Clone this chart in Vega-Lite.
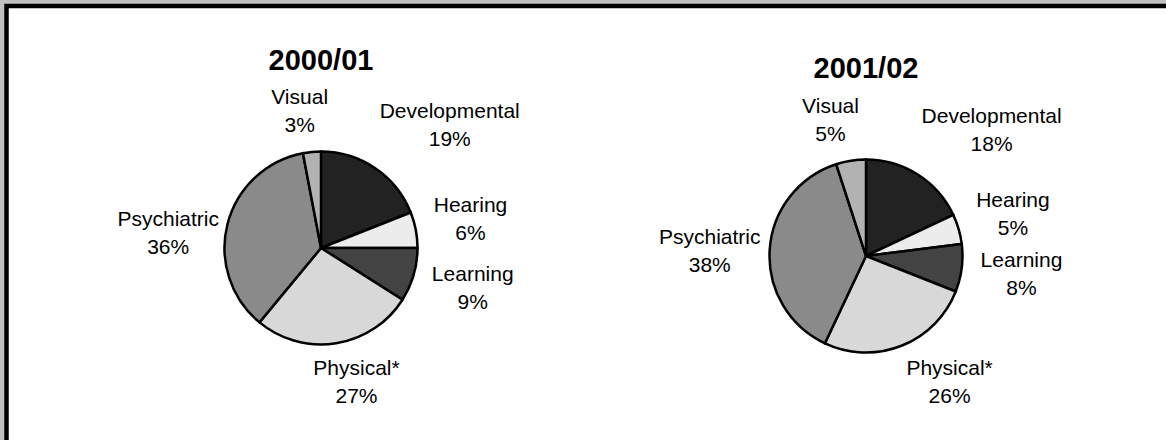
{
  "$schema": "https://vega.github.io/schema/vega-lite/v6.json",
  "width": 1159.5,
  "height": 434,
  "autosize": {"type": "none"},
  "padding": {"left": 6.5, "top": 6, "right": 0, "bottom": 0},
  "background": "#c0c0c0",
  "config": {
    "font": "Liberation Sans",
    "view": {"fill": "white", "stroke": "black", "strokeWidth": 4.5, "strokeDash": [1159.5, 1593.5, 434], "strokeCap": "square"}
  },
  "data": {
    "values": [
      {"year": "2000/01", "category": "Developmental", "pct": 19},
      {"year": "2000/01", "category": "Hearing", "pct": 6},
      {"year": "2000/01", "category": "Learning", "pct": 9},
      {"year": "2000/01", "category": "Physical*", "pct": 27},
      {"year": "2000/01", "category": "Psychiatric", "pct": 36},
      {"year": "2000/01", "category": "Visual", "pct": 3},
      {"year": "2001/02", "category": "Developmental", "pct": 18},
      {"year": "2001/02", "category": "Hearing", "pct": 5},
      {"year": "2001/02", "category": "Learning", "pct": 8},
      {"year": "2001/02", "category": "Physical*", "pct": 26},
      {"year": "2001/02", "category": "Psychiatric", "pct": 38},
      {"year": "2001/02", "category": "Visual", "pct": 5}
    ]
  },
  "transform": [
    {"stack": "pct", "groupby": ["year"], "sort": [{"field": "category", "order": "ascending"}], "as": ["p0", "p1"]},
    {"calculate": "(datum.p0 + datum.p1) / 2", "as": "mid"},
    {"calculate": "datum.category + '\\n' + datum.pct + '%'", "as": "label"}
  ],
  "encoding": {
    "x": {"field": "year", "type": "nominal", "scale": {"type": "point", "padding": 0, "range": [314.5, 859.5]}, "axis": null},
    "y": {"field": "year", "type": "nominal", "scale": {"type": "point", "padding": 0, "range": [242, 250]}, "axis": null}
  },
  "layer": [
    {
      "mark": {"type": "arc", "outerRadius": 96.5, "stroke": "black", "strokeWidth": 2.5},
      "encoding": {
        "theta": {"field": "p0", "type": "quantitative", "scale": {"domain": [0, 100]}},
        "theta2": {"field": "p1"},
        "color": {
          "field": "category", "type": "nominal", "legend": null,
          "scale": {
            "domain": ["Developmental", "Hearing", "Learning", "Physical*", "Psychiatric", "Visual"],
            "range": ["#222222", "#ececec", "#434343", "#d8d8d8", "#8a8a8a", "#b2b2b2"]
          }
        }
      }
    },
    {
      "mark": {
        "type": "text", "fontSize": 21, "lineBreak": "\n", "lineHeight": 28, "baseline": "middle", "align": "center", "color": "black",
        "dy": {"expr": "sin(datum.mid*PI/50) > 0.5 ? -14 - 30*cos(datum.mid*PI/50) : (sin(datum.mid*PI/50) < -0.5 ? -14 + 60*cos(datum.mid*PI/50) : -14)"},
        "dx": {"expr": "sin(datum.mid*PI/50) > 0.5 ? length(datum.category)*4.8 : (sin(datum.mid*PI/50) < -0.5 ? -length(datum.category)*3.5 : 90*sin(datum.mid*PI/50))"},
        "radius": {"expr": "abs(sin(datum.mid*PI/50)) > 0.5 ? 118 : 137"}
      },
      "encoding": {
        "theta": {"field": "mid", "type": "quantitative"},
        "text": {"field": "label"}
      }
    },
    {
      "transform": [{"filter": "datum.category === 'Developmental'"}],
      "mark": {"type": "text", "fontSize": 29, "fontWeight": "bold", "dy": -178, "baseline": "alphabetic", "align": "center", "color": "black"},
      "encoding": {"text": {"field": "year"}}
    }
  ]
}
